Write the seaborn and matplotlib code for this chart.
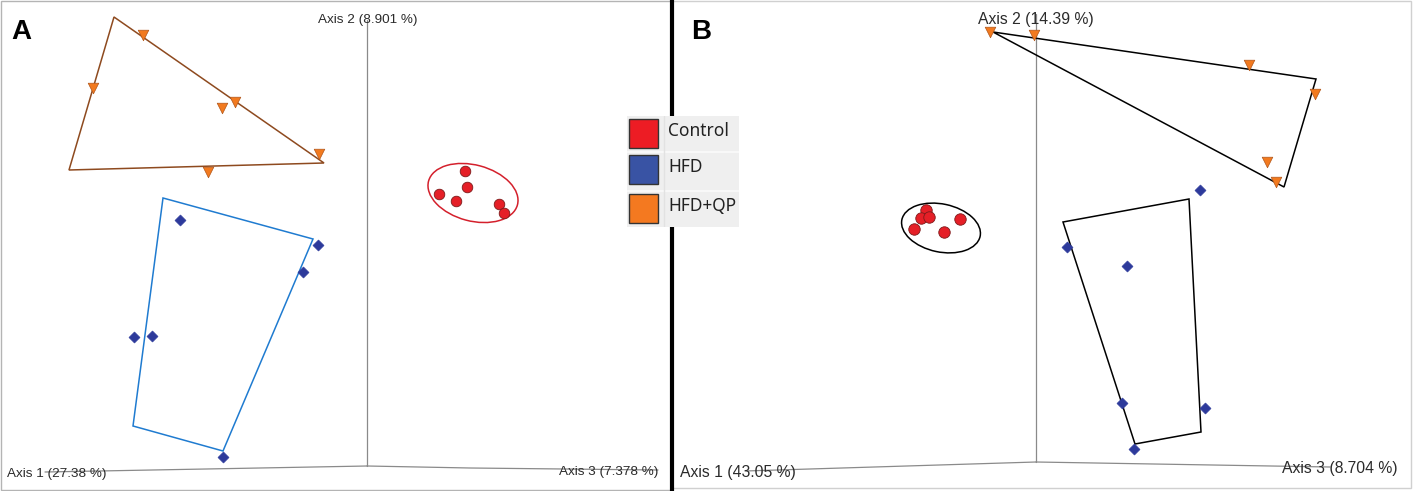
import numpy as np
import pandas as pd
import matplotlib
matplotlib.use("Agg")
import matplotlib.pyplot as plt
from matplotlib.patches import Polygon, Ellipse, Rectangle
import seaborn as sns

# ─── data: projected PCoA positions (screen-projection units, y down) ───
groups = ["Control", "HFD", "HFD+QP"]
group_colors = {"Control": "#e51f27", "HFD": "#2d3a9b", "HFD+QP": "#f27a1f"}
legend_colors = {"Control": "#ed1c24", "HFD": "#3953a4", "HFD+QP": "#f47920"}
group_markers = {"Control": "o", "HFD": "D", "HFD+QP": "v"}

# panel A (unweighted)
a_ctrl_x = [465, 467, 439, 456, 499, 504]
a_ctrl_y = [171, 187, 194, 201, 204, 213]
a_hfd_x = [180, 318, 303, 134, 152, 223]
a_hfd_y = [220, 245, 272, 337, 336, 457]
a_qp_x = [143, 93, 235, 222, 319, 208]
a_qp_y = [35, 88, 102, 108, 154, 172]

a_hull_hfd_x = [163, 313, 223, 133]
a_hull_hfd_y = [198, 239, 451, 426]
a_hull_qp_x = [114, 69, 324]
a_hull_qp_y = [17, 170, 163]
a_ell = (473, 193, 92, 56, 15)  # cx, cy, w, h, angle

a_ax1_x, a_ax1_y = [367, 45], [466, 472]
a_ax2_x, a_ax2_y = [367, 367], [20, 466]
a_ax3_x, a_ax3_y = [367, 470, 658], [466, 468, 470]
a_labels = ["Axis 1 (27.38 %)", "Axis 2 (8.901 %)", "Axis 3 (7.378 %)"]

# panel B (weighted)
b_ctrl_x = [926, 921, 929, 914, 944, 960]
b_ctrl_y = [210, 218, 217, 229, 232, 219]
b_hfd_x = [1200, 1067, 1127, 1122, 1205, 1134]
b_hfd_y = [190, 247, 266, 403, 408, 449]
b_qp_x = [990, 1034, 1249, 1315, 1267, 1276]
b_qp_y = [32, 35, 65, 94, 162, 182]

b_hull_hfd_x = [1063, 1189, 1201, 1135]
b_hull_hfd_y = [222, 199, 432, 444]
b_hull_qp_x = [993, 1316, 1284]
b_hull_qp_y = [32, 79, 187]
b_ell = (941, 228, 80, 48, 12)

b_ax1_x, b_ax1_y = [1036, 745], [462, 471]
b_ax2_x, b_ax2_y = [1036, 1036], [14, 462]
b_ax3_x, b_ax3_y = [1036, 1330], [462, 467]
b_labels = ["Axis 1 (43.05 %)", "Axis 2 (14.39 %)", "Axis 3 (8.704 %)"]


def make_df(cx, cy, hx, hy, qx, qy):
    rows = []
    for g, xs, ys in zip(groups, [cx, hx, qx], [cy, hy, qy]):
        for x, y in zip(xs, ys):
            rows.append({"x": x, "y": y, "group": g})
    return pd.DataFrame(rows)


df_a = make_df(a_ctrl_x, a_ctrl_y, a_hfd_x, a_hfd_y, a_qp_x, a_qp_y)
df_b = make_df(b_ctrl_x, b_ctrl_y, b_hfd_x, b_hfd_y, b_qp_x, b_qp_y)

sns.set_theme(style="white")
plt.rcParams["font.family"] = ["Liberation Sans", "DejaVu Sans"]

W, H = 1413, 491
fig = plt.figure(figsize=(W / 100, H / 100), dpi=100)

# background: frames + divider
bg = fig.add_axes([0, 0, 1, 1], zorder=0)
bg.set_xlim(0, W)
bg.set_ylim(H, 0)
bg.axis("off")
bg.add_patch(Rectangle((0.5, 0.5), 670, 489, fill=False, ec="#b4b4b4", lw=1))
bg.add_patch(Rectangle((672, 0.5), 739, 487.5, fill=False, ec="#d0d0d0", lw=1))
bg.plot([672, 672], [0, H], color="black", lw=3)


def draw_panel(rect, xlim, df, hulls, ell, axes_lines, labels, label_pos, fs, letter, letter_x,
               ell_color, ctrl_size):
    ax = fig.add_axes(rect, zorder=1)
    ax.set_facecolor("none")
    ax.set_xlim(*xlim)
    ax.set_ylim(H, 0)
    ax.axis("off")

    # coordinate axes
    for lx, ly in axes_lines:
        ax.plot(lx, ly, color="#8a8a8a", lw=0.9, zorder=1)
    for txt, (tx, ty, ha) in zip(labels, label_pos):
        ax.text(tx, ty, txt, fontsize=fs, color="#2b2b2b", ha=ha, va="baseline", zorder=2)

    # hulls
    for hx, hy, col in hulls:
        ax.add_patch(Polygon(np.column_stack([hx, hy]), closed=True, fill=False,
                             ec=col, lw=1.1, zorder=3))
    cx, cy, w, h, ang = ell
    ax.add_patch(Ellipse((cx, cy), w, h, angle=ang, fill=False, ec=ell_color, lw=1.1, zorder=3))

    # samples
    styles = {
        "Control": dict(s=ctrl_size, edgecolor="#7d1a1a", linewidth=0.6),
        "HFD": dict(s=32, edgecolor="#2d3a9b", linewidth=0.4),
        "HFD+QP": dict(s=58, edgecolor="#b0561a", linewidth=0.5),
    }
    for g in groups:
        sub = df[df["group"] == g]
        sns.scatterplot(data=sub, x="x", y="y", ax=ax, marker=group_markers[g],
                        color=group_colors[g], legend=False, zorder=4, **styles[g])
    ax.set_xlim(*xlim)
    ax.set_ylim(H, 0)
    ax.set_xlabel("")
    ax.set_ylabel("")
    ax.text(letter_x, 39, letter, fontsize=20, fontweight="bold", color="black",
            ha="left", va="baseline", zorder=5)
    return ax


draw_panel([0, 0, 671 / W, 1], (0, 671), df_a,
           [(a_hull_hfd_x, a_hull_hfd_y, "#1f7bd0"), (a_hull_qp_x, a_hull_qp_y, "#8e4a1f")],
           a_ell, [(a_ax1_x, a_ax1_y), (a_ax2_x, a_ax2_y), (a_ax3_x, a_ax3_y)],
           a_labels, [(7, 477, "left"), (318, 22.5, "left"), (658, 475, "right")],
           9.7, "A", 11, "#d4202c", 58)

draw_panel([673 / W, 0, (W - 673) / W, 1], (673, W), df_b,
           [(b_hull_hfd_x, b_hull_hfd_y, "black"), (b_hull_qp_x, b_hull_qp_y, "black")],
           b_ell, [(b_ax1_x, b_ax1_y), (b_ax2_x, b_ax2_y), (b_ax3_x, b_ax3_y)],
           b_labels, [(680, 476.5, "left"), (978, 23.5, "left"), (1282, 472.5, "left")],
           11.3, "B", 691, "black", 68)

# legend table
lg = fig.add_axes([627 / W, 1 - 227 / H, 112 / W, 111 / H], zorder=3)
lg.set_xlim(0, 112)
lg.set_ylim(111, 0)
lg.axis("off")
row_top = [0, 36, 75]
row_h = [36, 39, 36]
for g, top, rh in zip(groups, row_top, row_h):
    lg.add_patch(Rectangle((0, top), 112, rh, fc="#efefef", ec="none"))
    lg.add_patch(Rectangle((2, top + 3), 29, 29, fc=legend_colors[g], ec="#333333", lw=1))
    lg.text(41, top + 20, g, fontsize=12.5, family=["Noto Sans", "DejaVu Sans"],
            color="#222222", ha="left", va="baseline")
for top in row_top[1:]:
    lg.plot([0, 112], [top, top], color="#fafafa", lw=1.2)
lg.plot([37, 37], [0, 111], color="#e2e2e2", lw=1)

fig.savefig("out.png", dpi=100)
